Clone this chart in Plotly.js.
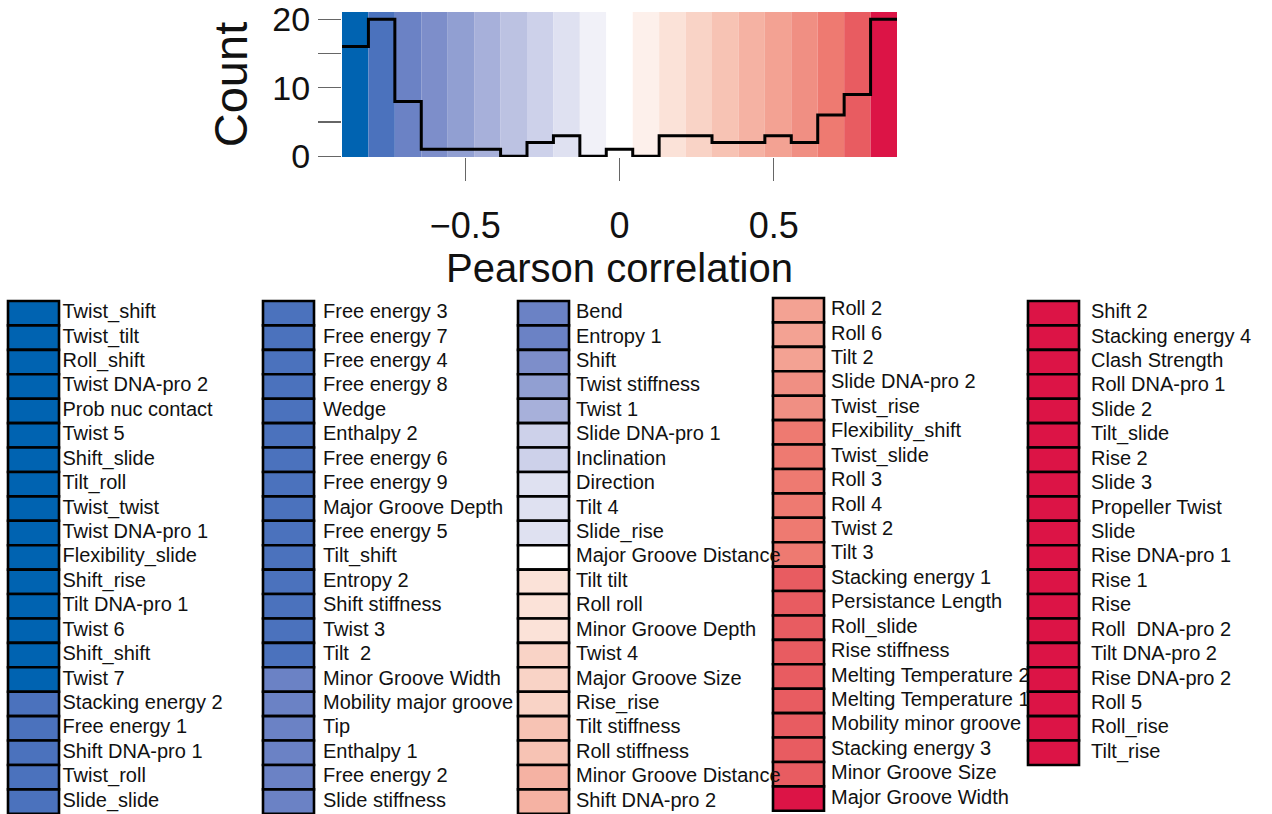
<!DOCTYPE html>
<html>
<head>
<meta charset="utf-8">
<script src="https://cdn.plot.ly/plotly-3.0.1.min.js"></script>
<style>
  html, body { margin: 0; padding: 0; background: #fff; }
  #chart { width: 1272px; height: 814px; }
</style>
</head>
<body>
<div id="chart"></div>
<script>
// Histogram of Pearson correlations (21 bins from -0.9 to 0.9)
const binEdges = [-0.9, -0.8143, -0.7286, -0.6429, -0.5571, -0.4714, -0.3857, -0.3,
  -0.2143, -0.1286, -0.0429, 0.0429, 0.1286, 0.2143, 0.3, 0.3857, 0.4714, 0.5571,
  0.6429, 0.7286, 0.8143, 0.9];
const binCounts = [16, 20, 8, 1, 1, 1, 0, 2, 3, 0, 1, 0, 3, 3, 2, 2, 3, 2, 6, 9, 20];
const binColors = ['#0063b1', '#4b72bd', '#6b82c5', '#7d8eca', '#919fd2', '#a7b0da',
  '#bcc2e2', '#cdd1ea', '#dfe1f1', '#f1f1f8', '#ffffff', '#fdf0eb', '#fbe2d8',
  '#f9d3c6', '#f7c3b4', '#f5b2a3', '#f3a293', '#f08f83', '#ee7a71', '#e85c61', '#dc1446'];

const xTickVals = [-0.5, 0, 0.5];
const xTickText = ['\u22120.5', '0', '0.5'];
const yTickVals = [0, 5, 10, 15, 20];
const yTickText = ['0', '', '10', '', '20'];

// Features in each legend column, with the histogram bin each one falls in
const col1Names = ['Twist_shift', 'Twist_tilt', 'Roll_shift', 'Twist DNA-pro 2', 'Prob nuc contact',
  'Twist 5', 'Shift_slide', 'Tilt_roll', 'Twist_twist', 'Twist DNA-pro 1', 'Flexibility_slide',
  'Shift_rise', 'Tilt DNA-pro 1', 'Twist 6', 'Shift_shift', 'Twist 7', 'Stacking energy 2',
  'Free energy 1', 'Shift DNA-pro 1', 'Twist_roll', 'Slide_slide'];
const col1Bins = [0, 0, 0, 0, 0, 0, 0, 0, 0, 0, 0, 0, 0, 0, 0, 0, 1, 1, 1, 1, 1];

const col2Names = ['Free energy 3', 'Free energy 7', 'Free energy 4', 'Free energy 8', 'Wedge',
  'Enthalpy 2', 'Free energy 6', 'Free energy 9', 'Major Groove Depth', 'Free energy 5',
  'Tilt_shift', 'Entropy 2', 'Shift stiffness', 'Twist 3', 'Tilt\u00a0 2', 'Minor Groove Width',
  'Mobility major groove', 'Tip', 'Enthalpy 1', 'Free energy 2', 'Slide stiffness'];
const col2Bins = [1, 1, 1, 1, 1, 1, 1, 1, 1, 1, 1, 1, 1, 1, 1, 2, 2, 2, 2, 2, 2];

const col3Names = ['Bend', 'Entropy 1', 'Shift', 'Twist stiffness', 'Twist 1', 'Slide DNA-pro 1',
  'Inclination', 'Direction', 'Tilt 4', 'Slide_rise', 'Major Groove Distance', 'Tilt tilt',
  'Roll roll', 'Minor Groove Depth', 'Twist 4', 'Major Groove Size', 'Rise_rise',
  'Tilt stiffness', 'Roll stiffness', 'Minor Groove Distance', 'Shift DNA-pro 2'];
const col3Bins = [2, 2, 3, 4, 5, 7, 7, 8, 8, 8, 10, 12, 12, 12, 13, 13, 13, 14, 14, 15, 15];

const col4Names = ['Roll 2', 'Roll 6', 'Tilt 2', 'Slide DNA-pro 2', 'Twist_rise',
  'Flexibility_shift', 'Twist_slide', 'Roll 3', 'Roll 4', 'Twist 2', 'Tilt 3',
  'Stacking energy 1', 'Persistance Length', 'Roll_slide', 'Rise stiffness',
  'Melting Temperature 2', 'Melting Temperature 1', 'Mobility minor groove',
  'Stacking energy 3', 'Minor Groove Size', 'Major Groove Width'];
const col4Bins = [16, 16, 16, 17, 17, 18, 18, 18, 18, 18, 18, 19, 19, 19, 19, 19, 19, 19, 19, 19, 20];

const col5Names = ['Shift 2', 'Stacking energy 4', 'Clash Strength', 'Roll DNA-pro 1', 'Slide 2',
  'Tilt_slide', 'Rise 2', 'Slide 3', 'Propeller Twist', 'Slide', 'Rise DNA-pro 1', 'Rise 1',
  'Rise', 'Roll\u00a0 DNA-pro 2', 'Tilt DNA-pro 2', 'Rise DNA-pro 2', 'Roll 5', 'Roll_rise', 'Tilt_rise'];
const col5Bins = [20, 20, 20, 20, 20, 20, 20, 20, 20, 20, 20, 20, 20, 20, 20, 20, 20, 20, 20];

// ---- page geometry (pixels) ----
const W = 1272, H = 814;
const FONT = 'Liberation Sans, Arial, Helvetica, sans-serif';
const plotLeft = 342, plotRight = 897, plotTop = 12, plotBottom = 157;

const columns = [
  { names: col1Names, bins: col1Bins },
  { names: col2Names, bins: col2Bins },
  { names: col3Names, bins: col3Bins },
  { names: col4Names, bins: col4Bins },
  { names: col5Names, bins: col5Bins }
];
const boxLeft = [8, 263, 518, 773, 1028];
const boxW = 51;
const colTop = [301, 301, 301, 298, 301];
const rowH = 24.42;
const labelX = [62.5, 323, 576, 831, 1091];

// colour bands behind the histogram
const bandShapes = binColors.map((c, i) => ({
  type: 'rect', xref: 'x', yref: 'y domain',
  x0: binEdges[i], x1: binEdges[i + 1], y0: 0, y1: 1,
  fillcolor: c, line: { width: 0 }, layer: 'below'
}));

const stepTrace = {
  type: 'scatter', mode: 'lines', xaxis: 'x', yaxis: 'y',
  x: binEdges,
  y: binCounts.concat([binCounts[binCounts.length - 1]]),
  line: { shape: 'hv', color: '#000', width: 3 },
  hoverinfo: 'skip', showlegend: false
};

// legend boxes and labels
const boxX = [], boxBase = [], boxH = [], boxColor = [];
const labX = [], labY = [], labText = [];
columns.forEach((col, c) => {
  col.names.forEach((name, r) => {
    const top = colTop[c] + r * rowH;
    boxX.push(boxLeft[c] + boxW / 2);
    boxBase.push(top);
    boxH.push(rowH);
    boxColor.push(binColors[col.bins[r]]);
    labX.push(labelX[c]);
    labY.push(top + rowH / 2);
    labText.push(name);
  });
});

// boxes first; the text layer sits above the bars, so long labels run over the next column
const boxTrace = {
  type: 'bar', xaxis: 'x2', yaxis: 'y2',
  x: boxX, base: boxBase, y: boxH, width: boxW,
  marker: { color: boxColor, line: { color: '#000', width: 2.6 } },
  hoverinfo: 'skip', showlegend: false
};

const labelTrace = {
  type: 'scatter', mode: 'text', xaxis: 'x2', yaxis: 'y2',
  x: labX, y: labY, text: labText,
  textposition: 'middle right',
  textfont: { family: FONT, size: 20, color: '#111' },
  hoverinfo: 'skip', showlegend: false
};

const layout = {
  width: W, height: H, autosize: false,
  margin: { l: 0, r: 0, t: 0, b: 0, pad: 0 },
  paper_bgcolor: '#fff', plot_bgcolor: 'rgba(0,0,0,0)',
  font: { family: FONT, color: '#111' },
  showlegend: false,
  xaxis: {
    domain: [plotLeft / W, plotRight / W], anchor: 'y',
    range: [binEdges[0], binEdges[binEdges.length - 1]],
    tickmode: 'array', tickvals: xTickVals, ticktext: xTickText,
    ticks: 'outside', ticklen: 23, tickwidth: 1.3, tickcolor: '#666',
    ticklabelstandoff: 14,
    tickfont: { family: FONT, size: 36, color: '#111' },
    showline: false, showgrid: false, zeroline: false,
    title: { text: 'Pearson correlation', font: { family: FONT, size: 40, color: '#111' }, standoff: 0 }
  },
  yaxis: {
    domain: [1 - plotBottom / H, 1 - plotTop / H], anchor: 'x',
    range: [-0.12, 21.05],
    tickmode: 'array', tickvals: yTickVals, ticktext: yTickText,
    ticks: 'outside', ticklen: 23, tickwidth: 1.3, tickcolor: '#666',
    ticklabelstandoff: 1, ticklabeloverflow: 'allow',
    tickfont: { family: FONT, size: 34, color: '#111' },
    showline: false, showgrid: false, zeroline: false,
    title: { text: 'Count', font: { family: FONT, size: 47, color: '#111' }, standoff: 9 }
  },
  xaxis2: { domain: [0, 1], anchor: 'y2', range: [0, W], visible: false, fixedrange: true },
  yaxis2: { domain: [0, 1], anchor: 'x2', range: [H, 0], visible: false, fixedrange: true },
  shapes: bandShapes,
  bargap: 0
};

Plotly.newPlot('chart', [boxTrace, labelTrace, stepTrace], layout,
  { displayModeBar: false, staticPlot: true });
</script>
</body>
</html>
